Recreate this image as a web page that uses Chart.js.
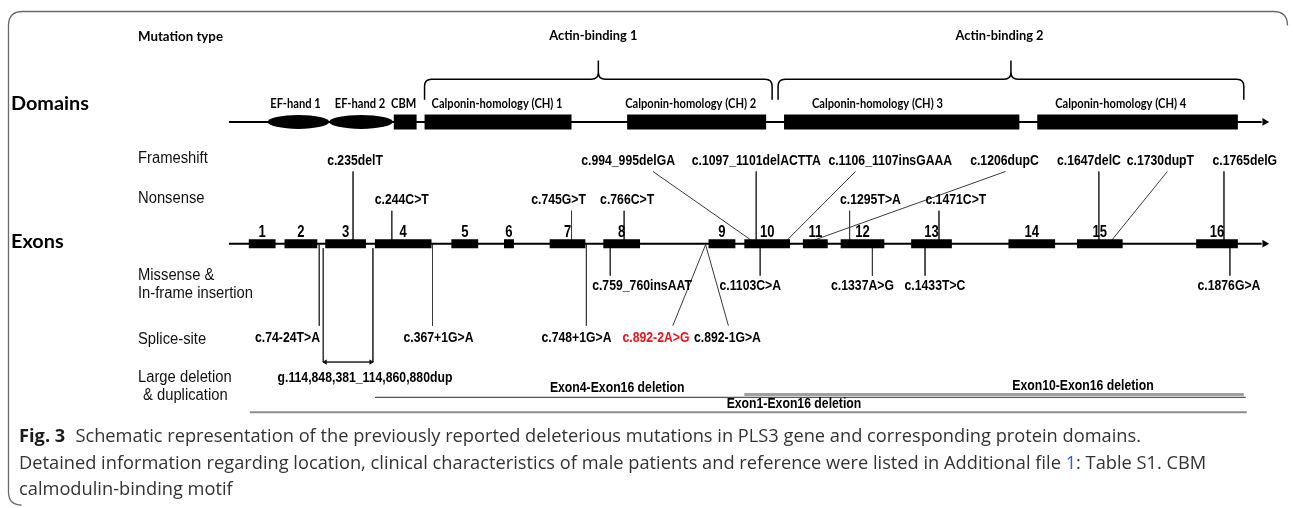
<!DOCTYPE html>
<html><head><meta charset="utf-8">
<script src="https://cdn.jsdelivr.net/npm/chart.js@4.4.1/dist/chart.umd.min.js"></script>
<style>html,body{margin:0;padding:0;background:#fff;}#wrap{width:1293px;height:508px;position:relative;}</style>
</head><body><div id="wrap"><canvas id="c" width="1293" height="508"></canvas></div>
<script>
// ================= DATA (schematic x units along the gene / protein) =================
const exonNumbers = ['1','2','3','4','5','6','7','8','9','10','11','12','13','14','15','16'];
const exonStart = [246,282,323,373,450,503,549,603,709,745,804,842,913,1011,1080,1200];
const exonEnd   = [273,315,364,430,477,513,585,640,736,791,829,886,954,1058,1126,1242];

const domainNames = ['EF-hand 1','EF-hand 2','CBM','Calponin-homology (CH) 1','Calponin-homology (CH) 2','Calponin-homology (CH) 3','Calponin-homology (CH) 4'];
const domainStart = [265,327,392,423,627,785,1040];
const domainEnd   = [327,391,415,571,767,1022,1242];

const actinNames = ['Actin-binding 1','Actin-binding 2'];
const actinStart = [423,779];
const actinEnd   = [773,1248];

const frameshiftNames = ['c.235delT','c.994_995delGA','c.1097_1101delACTTA','c.1106_1107insGAAA','c.1206dupC','c.1647delC','c.1730dupT','c.1765delG'];
const frameshiftSite  = [351,752,757,788,815,1102,1115,1228];

const nonsenseNames = ['c.244C>T','c.745G>T','c.766C>T','c.1295T>A','c.1471C>T'];
const nonsenseSite  = [390,571,624,851,941];

const missenseNames = ['c.759_760insAAT','c.1103C>A','c.1337A>G','c.1433T>C','c.1876G>A'];
const missenseSite  = [610,761,874,927,1234];

const spliceNames = ['c.74-24T>A','c.367+1G>A','c.748+1G>A','c.892-2A>G','c.892-1G>A'];
const spliceSite  = [317,431,586,706,706];
const spliceNovel = [false,false,false,true,false];

const largeNames = ['g.114,848,381_114,860,880dup','Exon4-Exon16 deletion','Exon10-Exon16 deletion','Exon1-Exon16 deletion'];
const largeStart = [321,373,745,247];
const largeEnd   = [371,1250,1248,1251];

const rowLabels = ['Frameshift','Nonsense','Missense &','In-frame insertion','Splice-site','Large deletion','& duplication'];

// ================= LAYOUT (label anchors, row heights) =================
const frameshiftLabelX  = [353,628,757,892,1007,1092,1164,1249];
const frameshiftLeaderX = [351,653,757,857,1008,1102,1171,1228];
const nonsenseLabelX = [400,558,627,872,958];
const missenseLabelX = [642,751,864,937,1233];
const spliceLabelX  = [285,437,576,656,728];
const spliceLeaderX = [317,431,586,673,729];
const largeLineY  = [364,400,397,415];
const largeLabelX = [363,617,1086,795];
const largeLabelY = [380,390,388,407];
const domainLabelX = [293,358,402,496,691,879,1124];
const actinLabelX = [593,1002];
const rowLabelY = [159,199,276,294,340,378,396];
const rowLabelXOff = [0,0,0,0,0,0,5];

const Y = { actin:32, brEnd:97, brBar:76, brPeak:57, domLabel:101, domain:119.5, fs:159, fsTop:170,
            ns:199, nsTop:210, exNum:232, exon:243.5, msBottom:276, ms:286, spBottom:327, sp:339 };
const LINE_START = 226, LINE_END = 1266;

// ================= BUILD DATASETS =================
function segs(list){ const out=[]; list.forEach(s=>{ out.push({x:s[0],y:s[1]},{x:s[2],y:s[3]},{x:s[2],y:null}); }); return out; }

const leaderSegs = [];
frameshiftNames.forEach((n,i)=>{ const v = frameshiftLeaderX[i]===frameshiftSite[i]; leaderSegs.push([frameshiftLeaderX[i],Y.fsTop,frameshiftSite[i], v?Y.exon:240]); });
nonsenseNames.forEach((n,i)=>leaderSegs.push([nonsenseSite[i],Y.nsTop,nonsenseSite[i],Y.exon]));
missenseNames.forEach((n,i)=>leaderSegs.push([missenseSite[i],Y.exon,missenseSite[i],Y.msBottom]));
spliceNames.forEach((n,i)=>leaderSegs.push([spliceSite[i],Y.exon+1,spliceLeaderX[i],Y.spBottom]));
leaderSegs.push([largeStart[0],248,largeStart[0],largeLineY[0]]);
leaderSegs.push([largeEnd[0],248,largeEnd[0],largeLineY[0]]);

const delStyles = [
  {w:1,c:'#222'},{w:1.4,c:'#555'},{w:3,c:'#a0a0a0'},{w:2,c:'#8c8c8c'}
];

const datasets = [
  { label:'exons', data: segs(exonNumbers.map((n,i)=>[exonStart[i],Y.exon,exonEnd[i],Y.exon])),
    showLine:true, borderWidth:9, borderColor:'#000', pointRadius:0, spanGaps:false, order:0 },
  { label:'domains', data: segs(domainNames.map((n,i)=>[domainStart[i],Y.domain,domainEnd[i],Y.domain]).filter((s,i)=>!domainNames[i].startsWith('EF-hand'))),
    showLine:true, borderWidth:15, borderColor:'#000', pointRadius:0, spanGaps:false, order:0 },
  { label:'backbone', data: segs([[LINE_START,Y.domain,LINE_END,Y.domain],[LINE_START,Y.exon,LINE_END,Y.exon]]),
    showLine:true, borderWidth:2, borderColor:'#000', pointRadius:0, spanGaps:false, order:2 },
  { label:'arrows', data:[{x:LINE_END+3,y:Y.domain},{x:LINE_END+3,y:Y.exon}], showLine:false,
    pointStyle:'triangle', rotation:90, pointRadius:4.5, backgroundColor:'#000', borderColor:'#000', borderWidth:0, order:1 },
  { label:'leaders', data: segs(leaderSegs), showLine:true, borderWidth:1, borderColor:'#3a3a3a', pointRadius:0, spanGaps:false, order:3 },
  { label:'dupHeadR', data:[{x:largeEnd[0]-2,y:largeLineY[0]}], showLine:false, pointStyle:'triangle', rotation:90,
    pointRadius:3, backgroundColor:'#000', borderWidth:0, order:1 },
  { label:'dupHeadL', data:[{x:largeStart[0]+2,y:largeLineY[0]}], showLine:false, pointStyle:'triangle', rotation:270,
    pointRadius:3, backgroundColor:'#000', borderWidth:0, order:1 }
];
largeNames.forEach((n,i)=>{
  datasets.push({ label:n, data: segs([[largeStart[i],largeLineY[i],largeEnd[i],largeLineY[i]]]), showLine:true,
    borderWidth:delStyles[i].w, borderColor:delStyles[i].c, pointRadius:0, spanGaps:false, order:4 });
});

// ================= DRAW HELPERS =================
function txt(ctx, s, x, y, font, sx, align, color){
  ctx.save(); ctx.font = font; ctx.fillStyle = color||'#000'; ctx.textBaseline='middle';
  const w = ctx.measureText(s).width; ctx.translate(x,y); ctx.scale(sx,1);
  const ax = align==='left'?0:(align==='right'?-w:-w/2);
  ctx.fillText(s, ax, 0); ctx.restore(); return w*sx;
}
function fitScale(ctx, font, s, target){ ctx.save(); ctx.font=font; const w=ctx.measureText(s).width; ctx.restore(); return target/w; }

const FL = '"Lato","Open Sans",sans-serif';
const FA = '"Liberation Sans",Arial,sans-serif';
const FC = '"Open Sans","Noto Sans",sans-serif';

const overlay = {
  id:'overlay',
  afterDatasetsDraw(chart){
    const ctx = chart.ctx, xs = chart.scales.x, ys = chart.scales.y;
    const px = v=>xs.getPixelForValue(v), py = v=>ys.getPixelForValue(v);

    // EF-hand ellipses
    domainNames.forEach((n,i)=>{
      if(!n.startsWith('EF-hand')) return;
      const a=px(domainStart[i]), b=px(domainEnd[i]);
      ctx.save(); ctx.fillStyle='#000'; ctx.beginPath();
      ctx.ellipse((a+b)/2, py(Y.domain), (b-a)/2, 7, 0, 0, Math.PI*2); ctx.fill(); ctx.restore();
    });
    // dup double arrow shaft
    ctx.save(); ctx.strokeStyle='#222'; ctx.lineWidth=1; ctx.beginPath();
    ctx.moveTo(px(largeStart[0]),py(largeLineY[0])); ctx.lineTo(px(largeEnd[0]),py(largeLineY[0])); ctx.stroke(); ctx.restore();

    // brackets
    const fH='bold 14px '+FL, sH=fitScale(ctx,fH,'Actin-binding 1',88);
    actinNames.forEach((n,i)=>{
      const s=px(actinStart[i]), e=px(actinEnd[i]), c=(s+e)/2, r=7;
      const yE=py(Y.brEnd), yB=py(Y.brBar), yP=py(Y.brPeak);
      ctx.save(); ctx.strokeStyle='#000'; ctx.lineWidth=1.5; ctx.beginPath();
      ctx.moveTo(s,yE); ctx.lineTo(s,yB+r); ctx.quadraticCurveTo(s,yB,s+r,yB); ctx.lineTo(c-r,yB);
      ctx.quadraticCurveTo(c,yB,c,yB-r); ctx.lineTo(c,yP);
      ctx.moveTo(c,yB-r); ctx.quadraticCurveTo(c,yB,c+r,yB); ctx.lineTo(e-r,yB);
      ctx.quadraticCurveTo(e,yB,e,yB+r); ctx.lineTo(e,yE); ctx.stroke(); ctx.restore();
      txt(ctx, n, px(actinLabelX[i]), py(Y.actin), fH, sH, 'center');
    });

    // headings
    txt(ctx,'Mutation type',138,36,fH,fitScale(ctx,fH,'Mutation type',85),'left');
    const fB='bold 19px '+FL, sB=fitScale(ctx,fB,'Domains',78);
    txt(ctx,'Domains',11,104,fB,sB,'left');
    txt(ctx,'Exons',11,242,fB,sB,'left');

    // domain labels
    const fD='bold 13.5px '+FL, sD=fitScale(ctx,fD,'Calponin-homology (CH) 1',131);
    domainNames.forEach((n,i)=>txt(ctx,n,px(domainLabelX[i]),py(Y.domLabel),fD,sD,'center'));

    // row labels
    const fR='16px '+FA, sR=fitScale(ctx,fR,'In-frame insertion',115);
    rowLabels.forEach((n,i)=>txt(ctx,n,138+rowLabelXOff[i],rowLabelY[i],fR,sR,'left','#111'));

    // mutation labels
    const fM='bold 15px '+FA, sM=fitScale(ctx,fM,'c.1097_1101delACTTA',129);
    frameshiftNames.forEach((n,i)=>txt(ctx,n,px(frameshiftLabelX[i]),py(Y.fs),fM,sM,'center'));
    nonsenseNames.forEach((n,i)=>txt(ctx,n,px(nonsenseLabelX[i]),py(Y.ns),fM,sM,'center'));
    missenseNames.forEach((n,i)=>txt(ctx,n,px(missenseLabelX[i]),py(Y.ms),fM,sM,'center'));
    spliceNames.forEach((n,i)=>txt(ctx,n,px(spliceLabelX[i]),py(Y.sp),fM,sM,'center',spliceNovel[i]?'#e8141b':'#000'));
    largeNames.forEach((n,i)=>txt(ctx,n,px(largeLabelX[i]),py(largeLabelY[i]),fM,sM,'center'));
    const fN='bold 16px '+FA;
    exonNumbers.forEach((n,i)=>txt(ctx,n,px((exonStart[i]+exonEnd[i])/2),py(Y.exNum),fN,sM,'center'));

    // frame
    ctx.save(); ctx.strokeStyle='#6a6a6a'; ctx.lineWidth=1.3; ctx.beginPath();
    const L=8.5,T=11.5,R=1287.5,rad=14;
    ctx.moveTo(L,492); ctx.lineTo(L,T+rad); ctx.quadraticCurveTo(L,T,L+rad,T); ctx.lineTo(R-rad,T); ctx.quadraticCurveTo(R,T,R,T+rad);
    ctx.moveTo(L,492); ctx.quadraticCurveTo(L,505,L+13,505);
    ctx.stroke(); ctx.restore();

    // caption
    const fCB='bold 18px '+FC, fC='18px '+FC;
    const l1='Schematic representation of the previously reported deleterious mutations in PLS3 gene and corresponding protein domains.';
    ctx.save(); ctx.font=fCB; const wf=ctx.measureText('Fig. 3').width; ctx.font=fC; const w1=ctx.measureText(l1).width; ctx.restore();
    const sC=(1141-19)/(wf+w1+10);
    txt(ctx,'Fig. 3',19,437,fCB,sC,'left','#1b1b1b');
    txt(ctx,l1,19+(wf+10)*sC,437,fC,sC,'left','#333');
    let x2=19;
    x2+=txt(ctx,'Detained information regarding location, clinical characteristics of male patients and reference were listed in Additional file ',x2,464,fC,sC,'left','#333');
    x2+=txt(ctx,'1',x2,464,fC,sC,'left','#2a62c9');
    txt(ctx,': Table S1. CBM',x2,464,fC,sC,'left','#333');
    txt(ctx,'calmodulin-binding motif',19,490,fC,sC,'left','#333');
  }
};

new Chart(document.getElementById('c'), {
  type:'scatter',
  data:{ datasets },
  options:{
    responsive:false, devicePixelRatio:1, animation:false,
    layout:{ padding:0 },
    plugins:{ legend:{display:false}, tooltip:{enabled:false} },
    elements:{ line:{ tension:0, borderCapStyle:'butt' } },
    scales:{
      x:{ type:'linear', min:0, max:1293, display:false },
      y:{ type:'linear', min:0, max:508, reverse:true, display:false }
    }
  },
  plugins:[overlay]
});
</script></body></html>
